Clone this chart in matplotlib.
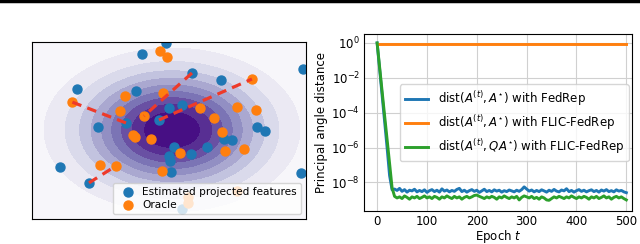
import numpy as np
import matplotlib
matplotlib.use("Agg")
import matplotlib.pyplot as plt
from matplotlib.lines import Line2D

# ---- left panel: projected features vs oracle ----
est_x = [-0.15, -0.75, 0.5, 3.275, -2.375, -0.9, 1.225, -0.075, 0.25, -1.15, -0.325,
         -1.85, 2.125, 2.325, 1.3, 1.5, 0.05, 0.875, 0.475, -0.075, -0.05, -2.8,
         -0.025, 3.225, -2.075, 0.25]
est_y = [2.175, 1.9, 1.425, 1.525, 1.025, 0.975, 1.25, 0.55, 0.625, 0.175, 0.25,
         0.075, 0.075, -0.025, -0.225, -0.25, -0.425, -0.425, -0.6, -0.65, -0.775, -0.925,
         -1.05, -1.075, -1.325, -1.975]
orc_x = [-0.3, -0.125, 2.0, -0.225, -2.5, -1.175, 0.7, 1.625, 2.1, -1.3, -0.7, 1.05,
         -0.975, -0.925, -0.525, 1.25, 1.8, 1.325, 0.2, -1.8, -1.4, -0.25, 0.4, 0.4, 1.625]
orc_y = [1.975, 1.825, 1.275, 0.925, 0.7, 0.85, 0.55, 0.575, 0.5, 0.475, 0.35, 0.3,
         -0.125, -0.175, -0.225, -0.05, -0.475, -0.525, -0.575, -0.875, -0.9, -1.025,
         -1.675, -1.825, -1.525]
# (estimated index, oracle index) joined by dashed lines
pairs = [(9, 4), (2, 10), (10, 2), (24, 20)]

# density background parameters
sig_x, sig_y = 1.49, 0.955

# ---- right panel: principal angle distance ----
epochs = np.arange(0, 501, 5)
fedrep = [1.0, 3.2e-2, 1.0e-3, 3.2e-5, 1.0e-6, 2.5e-8] + [v * 1e-9 for v in [
    3.8, 4.2, 3.5, 4.6, 3.1, 3.9, 2.8, 3.6, 3.3, 4.1, 2.9, 3.5, 3.0, 3.8, 2.7, 3.4,
    3.9, 3.0, 3.6, 2.8, 4.3, 3.2, 3.7, 2.9, 3.5, 3.1, 4.0, 4.6, 3.0, 3.6, 2.8, 3.4,
    3.9, 3.1, 3.6, 2.7, 3.3, 4.1, 3.0, 3.5, 2.9, 3.8, 3.2, 3.6, 2.8, 3.4, 3.0, 3.7,
    3.3, 2.9, 3.6, 3.1, 3.9, 5.6, 4.2, 3.2, 3.7, 2.9, 3.5, 3.0, 3.8, 3.3, 2.8, 3.6,
    3.1, 4.0, 3.2, 2.9, 3.7, 3.3, 4.4, 3.0, 3.5, 2.8, 3.4, 3.9, 3.1, 3.6, 2.9, 3.4,
    3.8, 3.0, 3.5, 2.8, 3.7, 3.2, 3.9, 3.0, 3.4, 2.9, 3.8, 3.2, 3.5, 2.9, 2.6]]
flic_q = [1.0, 4.2e-2, 1.7e-3, 7.0e-5, 3.0e-6, 1.25e-7, 5.0e-9] + [v * 1e-9 for v in [
    1.6, 1.3, 1.5, 1.2, 1.7, 1.4, 1.1, 1.5, 1.3, 1.6, 1.2, 1.4, 1.7, 1.3, 1.5, 1.2,
    1.6, 1.4, 1.1, 1.5, 1.3, 1.7, 1.4, 1.2, 1.6, 1.3, 1.5, 1.1, 1.4, 1.6, 1.3, 1.5,
    1.8, 1.9, 1.6, 1.4, 1.2, 1.5, 1.3, 1.6, 1.4, 1.1, 1.5, 1.3, 1.7, 1.4, 1.2, 1.5,
    1.3, 1.6, 1.0, 1.4, 1.7, 1.5, 1.3, 1.6, 1.2, 1.4, 1.1, 1.5, 1.3, 1.0, 0.95, 1.2,
    1.5, 1.3, 1.6, 1.4, 1.2, 1.5, 1.3, 1.7, 1.4, 1.2, 1.5, 1.3, 1.6, 1.4, 1.1, 1.5,
    1.3, 1.6, 1.2, 1.4, 1.7, 1.3, 1.5, 1.1, 1.4, 1.6, 1.3, 1.5, 1.2, 1.0]]
flic_epochs = [0, 500]
flic_plain = [0.9, 0.9]

fig = plt.figure(figsize=(6.4, 2.44), dpi=100)

# left
ax1 = fig.add_axes([0.05, 0.1025, 0.428, 0.725])
xx, yy = np.meshgrid(np.linspace(-3.5, 3.35, 300), np.linspace(-2.23, 2.2, 200))
zz = np.exp(-0.5 * ((xx / sig_x) ** 2 + (yy / sig_y) ** 2))
ax1.contourf(xx, yy, zz, levels=np.linspace(0, 1, 11), cmap="Purples")
ax1.scatter(est_x, est_y, s=42, color="#1f77b4", zorder=2, label="Estimated projected features")
ax1.scatter(orc_x, orc_y, s=42, color="#ff7f0e", zorder=2, label="Oracle")
for i, j in pairs:
    ax1.plot([est_x[i], orc_x[j]], [est_y[i], orc_y[j]], "--", color="#ee3a2a",
             lw=2.3, dashes=(3, 2), zorder=3)
ax1.set_xlim(-3.5, 3.35)
ax1.set_ylim(-2.23, 2.2)
ax1.set_xticks([])
ax1.set_yticks([])
ax1.legend(loc="lower right", fontsize=7.6, handletextpad=0.4, borderpad=0.35,
           labelspacing=0.3)

# right
ax2 = fig.add_axes([0.569, 0.135, 0.419, 0.725])
ax2.plot(epochs, fedrep, color="#1f77b4", lw=2.1,
         label=r"$\mathrm{dist}(A^{(t)}, A^{\star})$ with FedRep")
ax2.plot(flic_epochs, flic_plain, color="#ff7f0e", lw=2.1,
         label=r"$\mathrm{dist}(A^{(t)}, A^{\star})$ with FLIC-FedRep")
ax2.plot(epochs, flic_q, color="#2ca02c", lw=2.1,
         label=r"$\mathrm{dist}(A^{(t)}, QA^{\star})$ with FLIC-FedRep")
ax2.set_yscale("log")
ax2.set_ylim(2.3e-10, 3.2)
ax2.set_xlim(-26, 512)
ax2.set_yticks([1e0, 1e-2, 1e-4, 1e-6, 1e-8])
ax2.minorticks_off()
ax2.set_xticks([0, 100, 200, 300, 400, 500])
ax2.tick_params(labelsize=8.5, length=0, pad=3)
ax2.grid(True, color="#d0d0d0", lw=0.8)
ax2.set_xlabel(r"Epoch $t$", fontsize=8.5, labelpad=-0.5)
ax2.set_ylabel("Principal angle distance", fontsize=8.5, labelpad=2)
ax2.legend(loc="center right", fontsize=8.5, borderaxespad=0.3, labelspacing=0.45)

fig.add_artist(Line2D([0, 1], [0.994, 0.994], color="black", lw=2.5))

fig.savefig("out.png", dpi=100)
